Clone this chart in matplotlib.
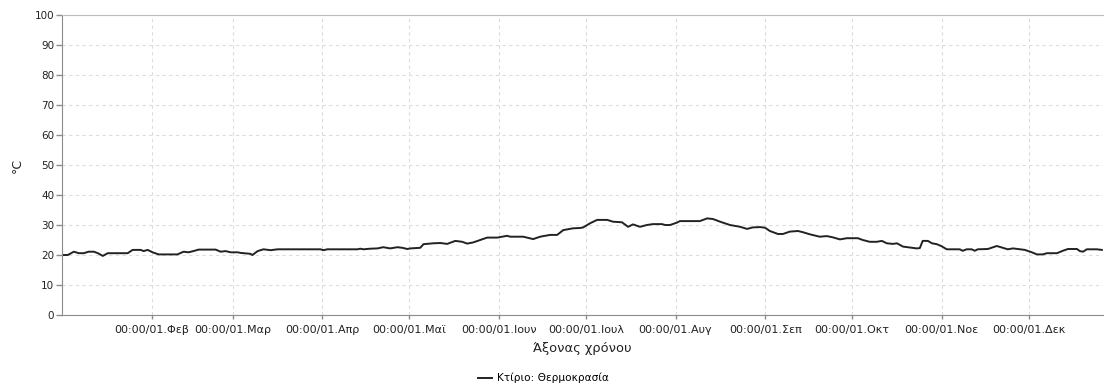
import matplotlib
matplotlib.use("Agg")
import matplotlib.pyplot as plt
import pandas as pd

# Building temperature samples: day offset from 1 January and temperature in °C
day = [0.0, 2.0, 4.1, 5.8, 7.5, 9.2, 11.0, 12.4, 14.1, 15.8, 22.7, 24.4, 27.2, 28.2,
       29.6, 31.3, 33.4, 39.9, 42.0, 43.7, 45.4, 47.2, 53.1, 54.8, 56.5, 58.3, 60.7,
       61.7, 65.1, 65.8, 67.6, 69.6, 72.1, 74.5, 89.3, 90.3, 91.7, 102.1, 103.1, 104.1,
       106.5, 109.0, 111.0, 113.4, 115.9, 117.6, 119.3, 120.4, 123.8, 124.9, 128.3,
       130.7, 133.1, 135.9, 138.3, 140.0, 142.1, 144.5, 146.9, 150.4, 153.8, 154.9,
       159.4, 162.8, 165.2, 168.7, 171.1, 173.2, 176.6, 179.0, 180.1, 182.5, 184.9,
       188.4, 190.4, 193.5, 195.6, 197.3, 199.7, 202.1, 204.2, 207.3, 208.4, 210.1,
       212.5, 213.5, 220.4, 222.9, 224.9, 227.4, 230.8, 234.3, 236.7, 238.7, 241.2,
       242.9, 244.6, 247.4, 249.1, 251.5, 254.3, 256.0, 258.4, 261.8, 264.3, 266.3,
       268.8, 271.2, 275.0, 276.7, 279.1, 281.5, 283.3, 285.0, 287.1, 288.5, 290.6,
       293.0, 295.3, 296.4, 297.4, 299.2, 300.6, 302.3, 304.0, 305.7, 310.2, 311.2,
       312.6, 314.3, 315.4, 316.4, 319.9, 323.0, 325.1, 326.8, 328.6, 330.3, 332.7,
       335.1, 336.9, 338.9, 340.3, 343.8, 345.8, 347.6, 350.7, 351.7, 352.8, 354.1,
       357.6, 359.3]
temp = [20.0, 20.0, 21.1, 20.6, 20.6, 21.1, 21.1, 20.6, 19.7, 20.6, 20.6, 21.7, 21.7,
        21.3, 21.7, 20.9, 20.2, 20.2, 21.1, 20.9, 21.3, 21.8, 21.8, 21.1, 21.3, 20.9,
        20.9, 20.7, 20.4, 20.0, 21.3, 21.9, 21.6, 21.9, 21.9, 21.6, 21.9, 21.9, 22.1,
        21.9, 22.1, 22.2, 22.6, 22.2, 22.6, 22.4, 22.0, 22.2, 22.4, 23.6, 23.9, 24.0,
        23.7, 24.7, 24.4, 23.8, 24.2, 25.0, 25.8, 25.8, 26.4, 26.1, 26.1, 25.3, 26.1,
        26.7, 26.7, 28.3, 28.9, 29.0, 29.2, 30.6, 31.7, 31.7, 31.1, 30.9, 29.4, 30.2,
        29.4, 30.0, 30.3, 30.3, 30.0, 30.0, 30.8, 31.3, 31.3, 32.2, 32.0, 31.1, 30.0,
        29.4, 28.7, 29.2, 29.3, 29.1, 28.0, 27.0, 27.0, 27.8, 28.0, 27.6, 26.9, 26.1,
        26.3, 25.9, 25.2, 25.6, 25.6, 25.0, 24.4, 24.4, 24.7, 23.9, 23.7, 23.9, 22.8,
        22.5, 22.2, 22.3, 24.7, 24.7, 23.9, 23.6, 22.9, 21.9, 21.9, 21.4, 21.9, 21.9,
        21.4, 21.9, 22.0, 23.0, 22.4, 21.9, 22.2, 22.0, 21.7, 20.9, 20.2, 20.2, 20.6,
        20.6, 21.4, 22.0, 22.0, 21.3, 21.1, 21.9, 21.9, 21.7]

year_start = "2015-01-01"
axis_end_day = 359.7
month_names = ["Φεβ", "Μαρ", "Απρ", "Μαϊ", "Ιουν", "Ιουλ", "Αυγ", "Σεπ", "Οκτ", "Νοε", "Δεκ"]
y_ticks = [0, 10, 20, 30, 40, 50, 60, 70, 80, 90, 100]
series_name = "Κτίριο: Θερμοκρασία"

plt.rcParams["font.family"] = ["DejaVu Sans"]

start = pd.Timestamp(year_start)
times = start + pd.to_timedelta(day, unit="D")
month_starts = pd.date_range(start, periods=12, freq="MS")[1:]

fig = plt.figure(figsize=(11.05, 3.88), dpi=100)
ax = fig.add_axes([62 / 1105, 1 - 315 / 388, (1103 - 62) / 1105, 300 / 388])

line, = ax.plot(times, temp, color="#222222", lw=1.4, label=series_name)

ax.set_xlim(start, start + pd.Timedelta(days=axis_end_day))
ax.set_ylim(0, 100)
ax.set_yticks(y_ticks)
ax.set_xticks(month_starts)
ax.set_xticklabels(["00:00/01." + m for m in month_names])

ax.grid(True, color="#dcdcdc", linestyle=(0, (3, 3)), linewidth=0.8)
ax.set_axisbelow(True)

for side in ("left", "bottom"):
    ax.spines[side].set_color("#8c8c8c")
ax.spines["top"].set_color("#bdbdbd")
ax.spines["right"].set_visible(False)

ax.tick_params(axis="y", labelsize=7.5, colors="#8c8c8c", labelcolor="#222222",
               length=4, width=1, pad=1.5)
ax.tick_params(axis="x", labelsize=8.0, colors="#8c8c8c", labelcolor="#222222",
               length=3, width=1, pad=4)

ax.set_xlabel("Άξονας χρόνου", fontsize=9.4, color="#222222")
ax.xaxis.set_label_coords(0.5, -0.09)
ax.set_ylabel("°C", fontsize=9, color="#222222")
ax.yaxis.set_label_coords(-0.037, 0.5)

fig.legend(handles=[line], labels=[series_name], loc="center",
           bbox_to_anchor=(543 / 1105, 1 - 378 / 388), frameon=False, fontsize=7.6,
           handlelength=1.4, handletextpad=0.4)

fig.savefig("out.png", dpi=100)
